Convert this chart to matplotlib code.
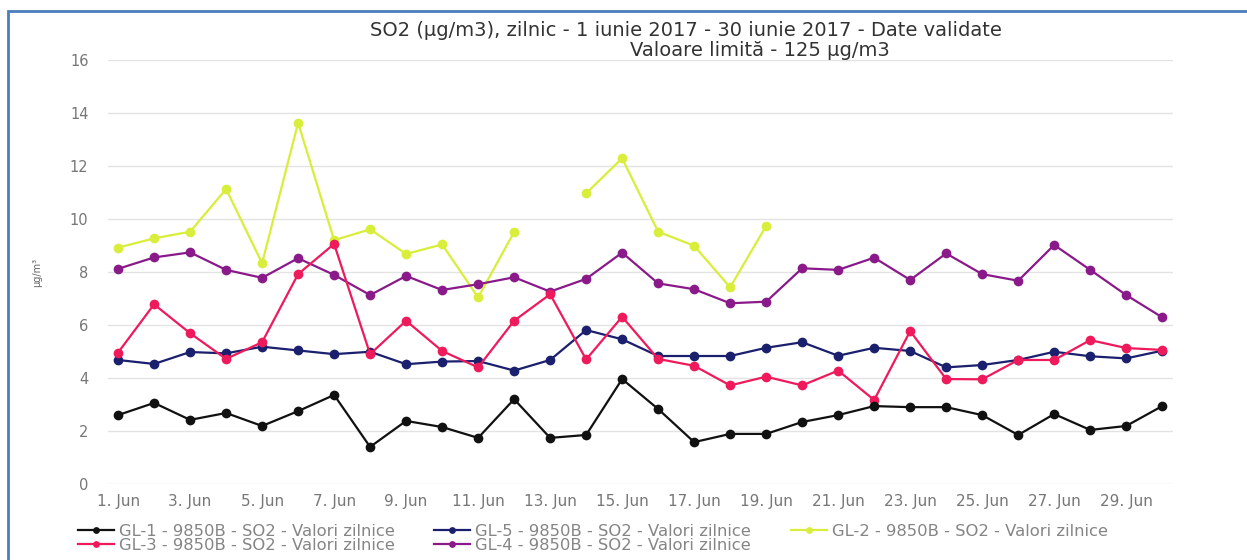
import numpy as np
import matplotlib.pyplot as plt
from matplotlib.patches import Rectangle

# days of June 2017
days = np.arange(1, 31)
tick_days = list(range(1, 30, 2))
tick_labels = [f"{d}. Jun" for d in tick_days]

nan = np.nan
gl1 = [2.6, 3.06, 2.42, 2.68, 2.19, 2.75, 3.36, 1.4, 2.38, 2.15,
       1.74, 3.2, 1.74, 1.85, 3.96, 2.83, 1.58, 1.89, 1.89, 2.34,
       2.6, 2.94, 2.9, 2.9, 2.6, 1.85, 2.64, 2.04, 2.19, 2.94]
gl5 = [4.68, 4.53, 4.98, 4.93, 5.18, 5.04, 4.9, 4.99, 4.52, 4.62,
       4.64, 4.28, 4.68, 5.81, 5.46, 4.83, 4.83, 4.83, 5.14, 5.35,
       4.84, 5.14, 5.02, 4.4, 4.49, 4.68, 4.99, 4.82, 4.74, 5.03]
gl2 = [8.92, 9.27, 9.52, 11.13, 8.33, 13.63, 9.2, 9.61, 8.68, 9.04,
       7.04, 9.51, nan, 10.97, 12.29, 9.52, 8.99, 7.42, 9.74, nan,
       nan, nan, nan, nan, nan, nan, nan, nan, nan, nan]
gl3 = [4.96, 6.78, 5.69, 4.72, 5.35, 7.92, 9.06, 4.9, 6.16, 5.02,
       4.4, 6.16, 7.16, 4.7, 6.31, 4.72, 4.46, 3.72, 4.05, 3.72,
       4.28, 3.17, 5.77, 3.96, 3.95, 4.68, 4.68, 5.43, 5.13, 5.06]
gl4 = [8.12, 8.55, 8.74, 8.08, 7.78, 8.52, 7.89, 7.13, 7.85, 7.32,
       7.54, 7.8, 7.26, 7.74, 8.73, 7.57, 7.35, 6.82, 6.88, 8.14,
       8.08, 8.54, 7.7, 8.7, 7.92, 7.67, 9.02, 8.08, 7.13, 6.29]

series = [
    ("GL-1 - 9850B - SO2 - Valori zilnice", gl1, "#111111"),
    ("GL-3 - 9850B - SO2 - Valori zilnice", gl3, "#ee1a5c"),
    ("GL-5 - 9850B - SO2 - Valori zilnice", gl5, "#1a1f6e"),
    ("GL-4 - 9850B - SO2 - Valori zilnice", gl4, "#8a1a8a"),
    ("GL-2 - 9850B - SO2 - Valori zilnice", gl2, "#d8ee3a"),
]

plt.rcParams['font.family'] = ['DejaVu Sans']

fig = plt.figure(figsize=(12.47, 5.6), dpi=100)
ax = fig.add_axes([108 / 1247, 1 - 484 / 560, (1173 - 108) / 1247, (484 - 60) / 560])

# draw in reference z-order: GL-2 at the back
for name, vals, col in reversed(series):
    ax.plot(days, vals, color=col, lw=1.6, marker='o', markersize=7,
            markeredgewidth=0, label=name)

ax.set_xlim(0.72, 30.3)
ax.set_ylim(0, 16)
ax.set_yticks(range(0, 17, 2))
ax.set_xticks(tick_days)
ax.set_xticklabels(tick_labels)
ax.grid(axis='y', color='#e3e3e3', lw=1)
ax.set_axisbelow(True)
for s in ax.spines.values():
    s.set_visible(False)
ax.tick_params(length=0, colors='#777777', labelsize=10.5)
ax.tick_params(axis='x', labelsize=11, pad=7)
ax.tick_params(axis='y', pad=14)
ax.set_ylabel("µg/m³", fontsize=7, color='#666666', labelpad=20)

fig.text(686 / 1247, 1 - 30 / 560, "SO2 (µg/m3), zilnic - 1 iunie 2017 - 30 iunie 2017 - Date validate",
         ha='center', va='center', fontsize=14, color='#333333')
fig.text(760 / 1247, 1 - 50 / 560, "Valoare limită - 125 µg/m3",
         ha='center', va='center', fontsize=14, color='#333333')

handles, labels = ax.get_legend_handles_labels()
order = [4, 3, 2, 1, 0]
fig.legend([handles[i] for i in order], [labels[i] for i in order],
           loc='upper left', bbox_to_anchor=(70 / 1247, 1 - 516 / 560),
           ncol=3, frameon=False, fontsize=11.8, labelcolor='#858585',
           handlelength=2.2, handletextpad=0.3, columnspacing=2.4,
           labelspacing=-0.1, borderpad=0, markerscale=0.7)

# blue frame around the picture
fig.patches.append(Rectangle((8 / 1247, -0.2), 1.2, 1.2 - 11 / 560,
                             transform=fig.transFigure, fill=False,
                             edgecolor='#4a7ebb', lw=2))

fig.savefig("out.png", dpi=100)
